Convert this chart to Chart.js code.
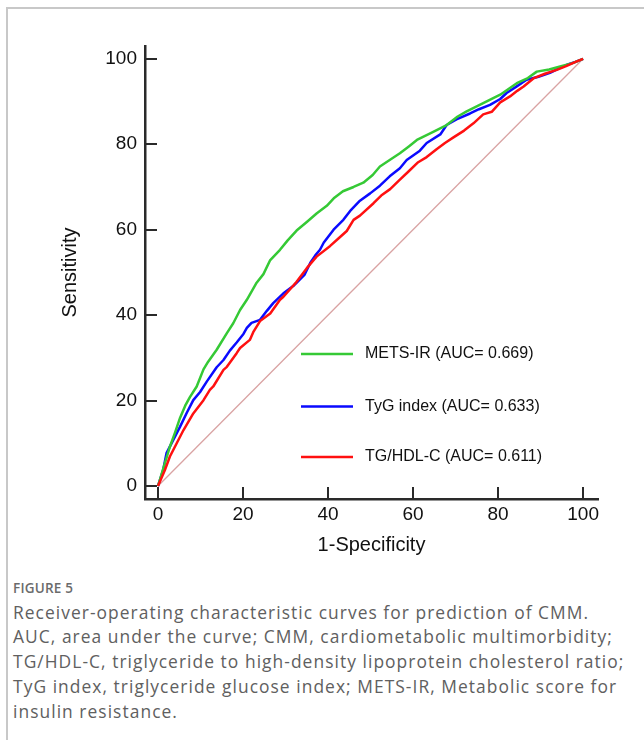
<!DOCTYPE html>
<html>
<head>
<meta charset="utf-8">
<script src="https://cdn.jsdelivr.net/npm/chart.js@4.4.1/dist/chart.umd.min.js"></script>
<style>
html,body{margin:0;padding:0;background:#fff;}
body{width:644px;height:740px;position:relative;overflow:hidden;}
#frame{position:absolute;left:6px;top:7px;width:660px;height:760px;border-top:2px solid #c8c8c8;border-left:2px solid #c8c8c8;box-sizing:border-box;}
#chart{position:absolute;left:0;top:0;}
#figlabel{position:absolute;left:13px;top:579px;font-family:"Open Sans","Noto Sans",sans-serif;font-size:13.5px;line-height:18px;color:#6b6b6b;font-weight:600;letter-spacing:0.2px;}
#captext{position:absolute;left:13px;top:599.5px;width:630px;font-family:"Open Sans","Noto Sans",sans-serif;font-size:17.4px;letter-spacing:1.05px;line-height:24.75px;color:#606060;white-space:nowrap;}
</style>
</head>
<body>
<div id="frame"></div>
<canvas id="chart" width="644" height="560"></canvas>
<div id="figlabel">FIGURE 5</div>
<div id="captext">Receiver-operating characteristic curves for prediction of CMM.<br>AUC, area under the curve; CMM, cardiometabolic multimorbidity;<br>TG/HDL-C, triglyceride to high-density lipoprotein cholesterol ratio;<br>TyG index, triglyceride glucose index; METS-IR, Metabolic score for<br>insulin resistance.</div>
<script>
// ---- tick labels ----
const xTicks = [0, 20, 40, 60, 80, 100];
const yTicks = [0, 20, 40, 60, 80, 100];

// ---- legend ----
const legendLabels = ['METS-IR (AUC= 0.669)', 'TyG index (AUC= 0.633)', 'TG/HDL-C (AUC= 0.611)'];

// ---- METS-IR ROC (1-specificity, sensitivity) ----
const metsFpr = [0,1.6,2.8,4.0,5.2,6.4,7.5,9.1,10.7,11.8,
                 13.8,16.2,17.7,19.3,20.9,22.4,23.2,24.8,26.4,28.7,
                 30.5,32.6,35.0,37.3,39.7,41.5,43.5,46.0,48.3,50.5,
                 52.2,54.5,56.9,59.0,60.9,64.5,67.9,70.5,72.6,76.5,
                 80.5,84.4,87.0,89.1,92.0,94.6,97.5,100];
const metsTpr = [0,5.3,9.2,12.5,16.0,18.8,20.8,23.3,27.3,29.1,
                 31.9,35.8,38.1,41.2,43.6,46.2,47.6,49.6,52.9,55.3,
                 57.5,59.8,61.8,63.8,65.6,67.5,69.0,70.0,71.0,72.8,
                 74.8,76.3,77.9,79.5,81.0,82.8,84.5,86.5,87.7,89.6,
                 91.6,94.3,95.5,97.0,97.5,98.2,99.0,100];

// ---- TyG index ROC ----
const tygFpr = [0,1.2,2.0,3.6,5.2,6.8,8.3,9.9,11.5,13.8,
                15.4,16.9,18.5,20.1,20.9,22.0,24.0,25.6,27.1,29.5,
                31.8,33.4,34.5,35.8,37.0,38.1,39.0,41.3,43.6,45.2,
                47.5,49.9,52.2,54.5,56.9,58.5,61.6,63.2,66.4,67.9,
                70.2,73.4,75.5,78.1,80.5,82.0,84.3,86.7,89.5,92.2,
                94.2,96.2,98.2,100];
const tygTpr = [0,3.7,7.7,10.8,13.9,17.2,20.1,22.0,24.5,27.8,
                29.5,31.7,33.6,35.6,37.0,38.2,38.9,41.0,42.8,45.1,
                46.8,48.4,49.5,52.2,54.0,55.3,57.0,60.0,62.3,64.4,
                66.8,68.5,70.3,72.5,74.4,76.3,78.5,80.3,82.3,84.5,
                85.8,87.2,88.2,89.2,90.6,92.0,93.5,95.1,95.8,96.7,
                97.7,98.6,99.3,100];

// ---- TG/HDL-C ROC ----
const tgFpr = [0,1.6,2.8,4.4,6.0,8.3,10.7,12.2,13.0,15.4,
               16.2,18.5,19.3,21.6,22.4,24.0,26.4,28.7,29.5,32.6,
               35.0,37.3,40.5,42.5,44.4,46.0,47.5,50.7,52.5,54.6,
               56.9,58.8,61.2,63.2,65.6,67.5,69.5,72.0,74.2,76.5,
               78.5,80.5,82.8,84.5,86.0,88.3,91.0,93.8,96.0,98.5,
               100];
const tgTpr = [0,3.7,6.9,10.0,13.1,17.0,20.1,22.5,23.3,27.2,
               27.9,31.1,32.3,34.2,36.0,38.6,40.4,43.6,44.3,47.8,
               51.0,53.7,56.2,58.0,59.7,62.3,63.3,66.2,68.0,69.5,
               71.7,73.5,75.8,77.0,78.9,80.3,81.6,83.2,84.9,87.0,
               87.6,89.8,91.2,92.5,93.5,95.4,96.5,97.4,98.3,99.4,
               100];

// ---- reference diagonal ----
const refFpr = [0, 100];
const refTpr = [0, 100];

const seriesColors = ['#35c935', '#0a0aff', '#ff1010'];
const AXIS = '#2a2a2a';
const FONT = '"Liberation Sans", Arial, sans-serif';

const toPts = (xs, ys) => xs.map((v, i) => ({x: v, y: ys[i]}));

const inwardTicks = {
  id: 'inwardTicks',
  beforeDatasetsDraw(chart) {
    const {ctx, chartArea: a, scales: {x, y}} = chart;
    ctx.save();
    ctx.strokeStyle = AXIS;
    ctx.lineWidth = 2;
    xTicks.forEach(v => {
      const px = Math.round(x.getPixelForValue(v));
      ctx.beginPath(); ctx.moveTo(px, a.bottom); ctx.lineTo(px, a.bottom - 12); ctx.stroke();
    });
    yTicks.forEach(v => {
      const py = Math.round(y.getPixelForValue(v));
      ctx.beginPath(); ctx.moveTo(a.left, py); ctx.lineTo(a.left + 12, py); ctx.stroke();
    });
    ctx.restore();
  }
};

const innerLegend = {
  id: 'innerLegend',
  afterDraw(chart) {
    const {ctx} = chart;
    const x0 = 301, x1 = 353, tx = 365;
    const ys = [354, 406.5, 457];
    ctx.save();
    ctx.font = '16px ' + FONT;
    ctx.textBaseline = 'middle';
    ctx.textAlign = 'left';
    legendLabels.forEach((t, i) => {
      ctx.strokeStyle = seriesColors[i];
      ctx.lineWidth = 2.5;
      ctx.beginPath(); ctx.moveTo(x0, ys[i]); ctx.lineTo(x1, ys[i]); ctx.stroke();
      ctx.fillStyle = '#111';
      ctx.fillText(t, tx, ys[i]);
    });
    ctx.restore();
  }
};

new Chart(document.getElementById('chart'), {
  type: 'line',
  data: {
    datasets: [
      {label: legendLabels[2], data: toPts(tgFpr, tgTpr), borderColor: seriesColors[2], borderWidth: 2.5},
      {label: legendLabels[0], data: toPts(metsFpr, metsTpr), borderColor: seriesColors[0], borderWidth: 2.5},
      {label: legendLabels[1], data: toPts(tygFpr, tygTpr), borderColor: seriesColors[1], borderWidth: 2.5},
      {label: 'reference', data: toPts(refFpr, refTpr), borderColor: '#d9a3a3', borderWidth: 1.3}
    ]
  },
  options: {
    responsive: false,
    animation: false,
    parsing: false,
    elements: {point: {radius: 0}, line: {tension: 0, fill: false, borderJoinStyle: 'round'}},
    layout: {padding: {left: 0, right: 46, top: 46, bottom: 0}},
    plugins: {legend: {display: false}, tooltip: {enabled: false}},
    scales: {
      x: {
        type: 'linear', min: -3.06, max: 103.5,
        afterBuildTicks: s => { s.ticks = xTicks.map(v => ({value: v})); },
        afterFit: s => { s.height = 61; },
        grid: {display: false, drawTicks: false},
        border: {display: true, color: AXIS, width: 2.5},
        ticks: {padding: 4, color: '#111', autoSkip: false, maxRotation: 0, font: {family: FONT, size: 19}},
        title: {display: true, text: '1-Specificity', color: '#111', font: {family: FONT, size: 20}, padding: {top: 0, bottom: 3}}
      },
      y: {
        type: 'linear', min: -3.04, max: 103,
        afterBuildTicks: s => { s.ticks = yTicks.map(v => ({value: v})); },
        afterFit: s => { s.width = 145; },
        grid: {display: false, drawTicks: false},
        border: {display: true, color: AXIS, width: 2.5},
        ticks: {padding: 8, color: '#111', autoSkip: false, font: {family: FONT, size: 19}},
        title: {display: true, text: 'Sensitivity', color: '#111', font: {family: FONT, size: 20}, padding: {top: 58, bottom: 0}}
      }
    }
  },
  plugins: [inwardTicks, innerLegend]
});
</script>
</body>
</html>
